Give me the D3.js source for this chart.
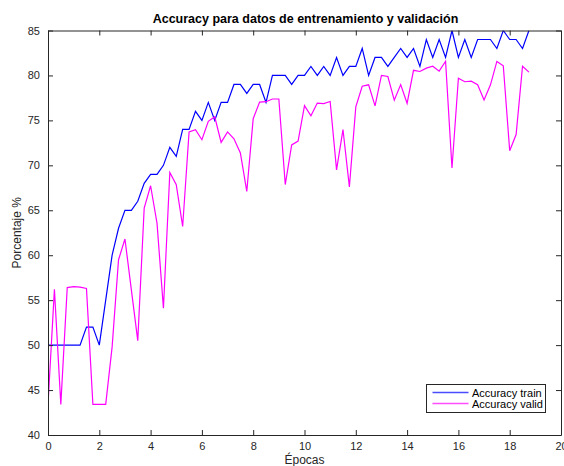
<!DOCTYPE html>
<html>
<head>
<meta charset="utf-8">
<script src="https://cdn.jsdelivr.net/npm/d3@7"></script>
<style>
  html, body { margin: 0; padding: 0; background: #fff; }
  svg { display: block; font-family: "Liberation Sans", Arial, Helvetica, sans-serif; }
</style>
</head>
<body>
<svg id="chart" width="564" height="466"></svg>
<script>
// Epochs sampled every quarter epoch
const epochs = d3.range(0, 76).map(i => i * 0.25);

const trainAcc = [
  50, 50, 50, 50, 50, 50, 52, 52, 50, 55,
  60, 63, 65, 65, 66, 68, 69, 69, 70, 72,
  71, 74, 74, 76, 75, 77, 75, 77, 77, 79,
  79, 78, 79, 79, 77, 80, 80, 80, 79, 80,
  80, 81, 80, 81, 80, 82, 80, 81, 81, 83,
  80, 82, 82, 81, 82, 83, 82, 83, 81, 84,
  82, 84, 82, 85, 82, 84, 82, 84, 84, 84,
  83, 85, 84, 84, 83, 85
];

const validAcc = [
  43.4, 56.2, 43.4, 56.4, 56.5, 56.45, 56.3, 43.4, 43.4, 43.4,
  49.8, 59.5, 61.8, 56.15, 50.5, 65.24, 67.73, 63.57, 54.1, 69.21,
  67.84, 63.2, 73.71, 73.96, 72.85, 74.9, 75.4, 72.55, 73.72, 72.96,
  71.37, 67.1, 75.19, 77.03, 77.08, 77.38, 77.38, 67.86, 72.27, 72.7,
  76.64, 75.52, 76.93, 76.86, 77.1, 69.5, 73.98, 67.6, 76.5, 78.8,
  78.96, 76.62, 80.0, 79.88, 77.25, 78.98, 76.9, 80.57, 80.44, 80.81,
  81.03, 80.48, 81.58, 69.7, 79.7, 79.3, 79.36, 78.96, 77.28, 78.96,
  81.56, 81.07, 71.62, 73.42, 81.03, 80.37
];

const xTicks = [0, 2, 4, 6, 8, 10, 12, 14, 16, 18, 20];
const yTicks = [40, 45, 50, 55, 60, 65, 70, 75, 80, 85];

const seriesNames = ["Accuracy train", "Accuracy valid"];
const seriesColors = ["#0000ff", "#ff00ff"];

const titleText = "Accuracy para datos de entrenamiento y validación";
const xLabel = "Épocas";
const yLabel = "Porcentaje %";

// Layout
const margin = { left: 48, right: 3, top: 30.5, bottom: 31 };
const W = 564, H = 466;
const plotW = W - margin.left - margin.right;
const plotH = H - margin.top - margin.bottom;

const svg = d3.select("#chart");

const x = d3.scaleLinear().domain([0, 20]).range([margin.left, margin.left + plotW]);
const y = d3.scaleLinear().domain([40, 85]).range([margin.top + plotH, margin.top]);

const axisColor = "#262626";
const tickLen = 5;

// Clip so lines stay inside the axes box
svg.append("defs").append("clipPath").attr("id", "plotClip")
  .append("rect")
  .attr("x", margin.left).attr("y", margin.top)
  .attr("width", plotW).attr("height", plotH);

// Series lines
const line = d3.line().x((d, i) => x(epochs[i])).y(d => y(d));
[trainAcc, validAcc].forEach((vals, k) => {
  svg.append("path")
    .datum(vals)
    .attr("clip-path", "url(#plotClip)")
    .attr("fill", "none")
    .attr("stroke", seriesColors[k])
    .attr("stroke-width", 1.2)
    .attr("stroke-linejoin", "miter")
    .attr("d", line);
});

// Axes (inward ticks on all four sides, box style)
function styleAxis(g) {
  g.selectAll("path.domain").attr("stroke", axisColor).attr("stroke-width", 1);
  g.selectAll(".tick line").attr("stroke", axisColor).attr("stroke-width", 1);
  g.selectAll(".tick text")
    .attr("fill", axisColor)
    .style("font-size", "11px")
    .style("font-family", "'Liberation Sans', Arial, Helvetica, sans-serif");
}

const gx = svg.append("g")
  .attr("transform", `translate(0,${margin.top + plotH})`)
  .call(d3.axisBottom(x).tickValues(xTicks).tickFormat(d3.format("d"))
    .tickSizeInner(-tickLen).tickSizeOuter(0).tickPadding(7));
styleAxis(gx);

const gxTop = svg.append("g")
  .attr("transform", `translate(0,${margin.top})`)
  .call(d3.axisTop(x).tickValues(xTicks).tickFormat("")
    .tickSizeInner(-tickLen).tickSizeOuter(0));
styleAxis(gxTop);

const gy = svg.append("g")
  .attr("transform", `translate(${margin.left},0)`)
  .call(d3.axisLeft(y).tickValues(yTicks).tickFormat(d3.format("d"))
    .tickSizeInner(-tickLen).tickSizeOuter(0).tickPadding(8));
styleAxis(gy);

const gyRight = svg.append("g")
  .attr("transform", `translate(${margin.left + plotW},0)`)
  .call(d3.axisRight(y).tickValues(yTicks).tickFormat("")
    .tickSizeInner(-tickLen).tickSizeOuter(0));
styleAxis(gyRight);

// Title and axis labels
svg.append("text")
  .attr("x", margin.left + plotW / 2 + 1)
  .attr("y", 23)
  .attr("text-anchor", "middle")
  .attr("fill", "#000")
  .style("font-size", "12.5px")
  .style("font-weight", "bold")
  .text(titleText);

svg.append("text")
  .attr("x", margin.left + plotW / 2)
  .attr("y", 463.5)
  .attr("text-anchor", "middle")
  .attr("fill", axisColor)
  .style("font-size", "12px")
  .text(xLabel);

svg.append("text")
  .attr("transform", `translate(21,${margin.top + plotH / 2}) rotate(-90)`)
  .attr("text-anchor", "middle")
  .attr("fill", axisColor)
  .style("font-size", "12px")
  .text(yLabel);

// Legend
const legend = svg.append("g").attr("transform", "translate(426.5,384.5)");
legend.append("rect")
  .attr("width", 119).attr("height", 28)
  .attr("fill", "#fff")
  .attr("stroke", axisColor).attr("stroke-width", 1);
seriesNames.forEach((name, k) => {
  const rowY = 8 + k * 11;
  legend.append("line")
    .attr("x1", 6).attr("x2", 42)
    .attr("y1", rowY).attr("y2", rowY)
    .attr("stroke", seriesColors[k])
    .attr("stroke-opacity", 0.7)
    .attr("stroke-width", 1.5);
  legend.append("text")
    .attr("x", 45.5).attr("y", rowY + 4)
    .attr("fill", "#000")
    .style("font-size", "11px")
    .text(name);
});
</script>
</body>
</html>
